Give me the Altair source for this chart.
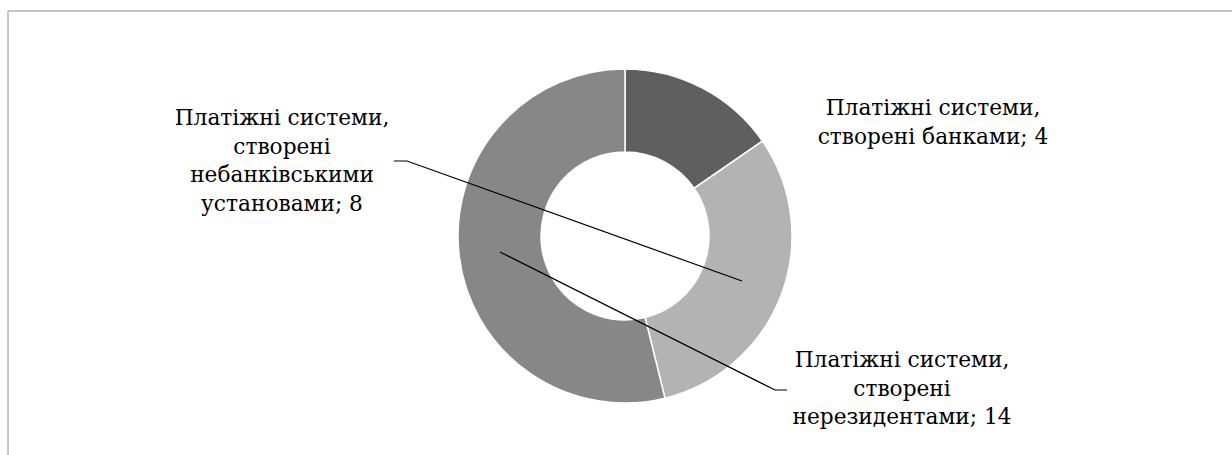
import altair as alt
import pandas as pd

# ---- data ----
categories = [
    "Платіжні системи, створені банками",
    "Платіжні системи, створені небанківськими установами",
    "Платіжні системи, створені нерезидентами",
]
values = [4, 8, 14]
slice_colors = ["#5f5f5f", "#b3b3b3", "#878787"]

# label wrapping (as in the reference)
label_lines = [
    ["Платіжні системи,", "створені банками; {v}"],
    ["Платіжні системи,", "створені", "небанківськими", "установами; {v}"],
    ["Платіжні системи,", "створені", "нерезидентами; {v}"],
]

# ---- layout (pixels) ----
W, H = 1232, 455
CX, CY = 625, 236
R_OUT, R_IN = 167, 84
label_pos = [(933, 108), (282, 118), (902, 360)]   # centre of first line
leaders = [
    None,
    [(394, 161), (407, 161), (742, 281)],
    [(500, 252), (775, 390), (787, 390)],
]

df = pd.DataFrame({
    "cat": categories,
    "value": values,
    "idx": list(range(len(categories))),
})

txt_rows = []
for i, (lines, (tx, ty)) in enumerate(zip(label_lines, label_pos)):
    text = "\n".join(l.format(v=values[i]) for l in lines)
    txt_rows.append({"label": text, "tx": tx, "ty": ty})
df_txt = pd.DataFrame(txt_rows)

line_rows = []
for i, pts in enumerate(leaders):
    if pts is None:
        continue
    for k, (px, py) in enumerate(pts):
        line_rows.append({"id": i, "k": k, "px": px, "py": py})
df_lines = pd.DataFrame(line_rows)

border = alt.Chart(pd.DataFrame({"a": [0]})).mark_rect(
    fill=None, stroke="#8c8c8c", strokeWidth=1
).encode(
    x=alt.value(8), y=alt.value(11), x2=alt.value(W + 20), y2=alt.value(H + 20)
)

arc = alt.Chart(df).mark_arc(
    outerRadius=R_OUT, innerRadius=R_IN, stroke="white", strokeWidth=1.5
).encode(
    theta=alt.Theta("value:Q", stack=True),
    order=alt.Order("idx:Q"),
    color=alt.Color("cat:N", scale=alt.Scale(domain=categories, range=slice_colors), legend=None),
    x=alt.value(CX),
    y=alt.value(CY),
)

lines = alt.Chart(df_lines).mark_line(color="black", strokeWidth=1.2).encode(
    x=alt.X("px:Q", scale=None, axis=None),
    y=alt.Y("py:Q", scale=None, axis=None),
    detail="id:N",
    order="k:Q",
)

text = alt.Chart(df_txt).mark_text(
    font="DejaVu Serif", fontSize=21.7,
    lineBreak="\n", align="center", baseline="middle", lineHeight=28.5, color="black"
).encode(
    x=alt.X("tx:Q", scale=None, axis=None),
    y=alt.Y("ty:Q", scale=None, axis=None),
    text="label:N",
)

chart = alt.layer(border, arc, lines, text).properties(
    width=W, height=H, padding=0, autosize="none", background="white"
).configure_view(stroke=None)

chart.save("out.html", embed_options={"renderer": "svg", "actions": False})
